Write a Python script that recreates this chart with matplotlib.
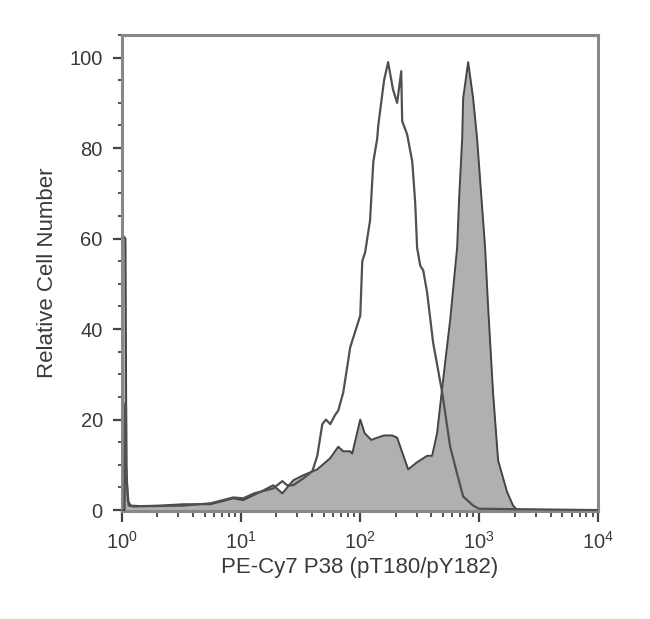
import matplotlib
matplotlib.use("Agg")
import matplotlib.pyplot as plt
from matplotlib.ticker import LogLocator, MultipleLocator

plt.rcParams['font.family'] = ['Liberation Sans', 'DejaVu Sans']

# Stained sample (filled gray)
stained_x = [1.0, 1.005, 1.08, 1.1, 1.13, 1.2, 1.44, 2.1, 3.3, 5.6, 8.7, 10.5, 14.6, 18.8, 22.4,
             27.7, 33.6, 44, 56.6, 66, 72.7, 83, 86.5, 101, 110, 125, 140, 160, 187, 206, 255,
             300, 368, 405, 446, 492, 574, 657, 683, 724, 738, 813, 895, 967, 1024, 1128, 1195,
             1315, 1450, 1725, 1937, 2100, 10000]
stained_y = [0, 61, 60, 10, 2, 1, 0.9, 1, 1.3, 1.3, 2.6, 2.2, 4, 5.5, 3.7,
             6.6, 7.7, 9, 11.5, 14, 13, 13, 12.5, 20, 17, 15.5, 16, 16.5, 16.5, 16, 9,
             10.5, 12, 12, 17, 27, 42, 58, 69, 82, 91, 99, 91, 82, 73, 58, 45,
             26, 11, 4, 1, 0, 0]

# Control / unstained (open outline)
control_x = [1.0, 1.06, 1.075, 1.09, 1.1, 1.15, 1.26, 2.0, 3.3, 5.6, 8.7, 10.5, 13, 18.8, 22.4, 24.5,
             27.7, 33.6, 40, 44, 48.5, 52, 56.6, 62, 66, 72.7, 83.2, 101, 105, 111, 122, 130,
             140, 143, 160, 173, 190, 206, 223, 227, 250, 276, 292, 303, 322, 341, 368, 413,
             492, 574, 657, 738, 895, 1000, 10000]
control_y = [0, 0, 23.5, 23, 7, 1, 0.8, 0.9, 1, 1.5, 2.8, 2.6, 3.7, 4.8, 6.4, 5.5,
             5.5, 7, 8.6, 12, 19, 20, 19, 21, 22, 26, 36, 43, 55, 57, 64, 77,
             82, 85, 95, 99, 93, 90, 97, 86, 83, 77, 68, 58, 54, 53, 48, 37,
             26, 14, 8, 3, 1, 0.3, 0]

x_ticks = [1, 10, 100, 1000, 10000]
y_ticks = [0, 20, 40, 60, 80, 100]

fig = plt.figure(figsize=(6.5, 6.19), dpi=100)
ax = fig.add_axes([121.5 / 650, 1 - 511 / 619, (598 - 121.5) / 650, (511 - 35) / 619])

ax.fill_between(stained_x, stained_y, 0, color='#b0b0b0', linewidth=0, zorder=1)
ax.plot(stained_x, stained_y, color='#444444', linewidth=1.4, zorder=2)
ax.plot(control_x, control_y, color='#505050', linewidth=1.6, zorder=3)

ax.set_xscale('log')
ax.set_xlim(1, 10000)
ax.set_ylim(-0.2, 105)
ax.set_xticks(x_ticks)
ax.xaxis.set_minor_locator(LogLocator(base=10, subs=range(2, 10), numticks=20))
ax.set_yticks(y_ticks)
ax.yaxis.set_minor_locator(MultipleLocator(5))

for sp in ax.spines.values():
    sp.set_color('#888888')
    sp.set_linewidth(2.2)

ax.tick_params(which='major', direction='out', width=1.6, color='#444444',
               labelsize=14.5, labelcolor='#3a3a3a')
ax.tick_params(axis='x', which='major', length=8, pad=6)
ax.tick_params(axis='y', which='major', length=6.5, pad=7)
ax.tick_params(axis='x', which='minor', direction='out', length=4, width=1.3, color='#444444')
ax.tick_params(axis='y', which='minor', direction='out', length=3, width=1.3, color='#444444')

ax.set_xlabel('PE-Cy7 P38 (pT180/pY182)', fontsize=16, color='#3a3a3a', labelpad=3)
ax.set_ylabel('Relative Cell Number', fontsize=16, color='#3a3a3a', labelpad=8)

fig.savefig('out.png', dpi=100)
